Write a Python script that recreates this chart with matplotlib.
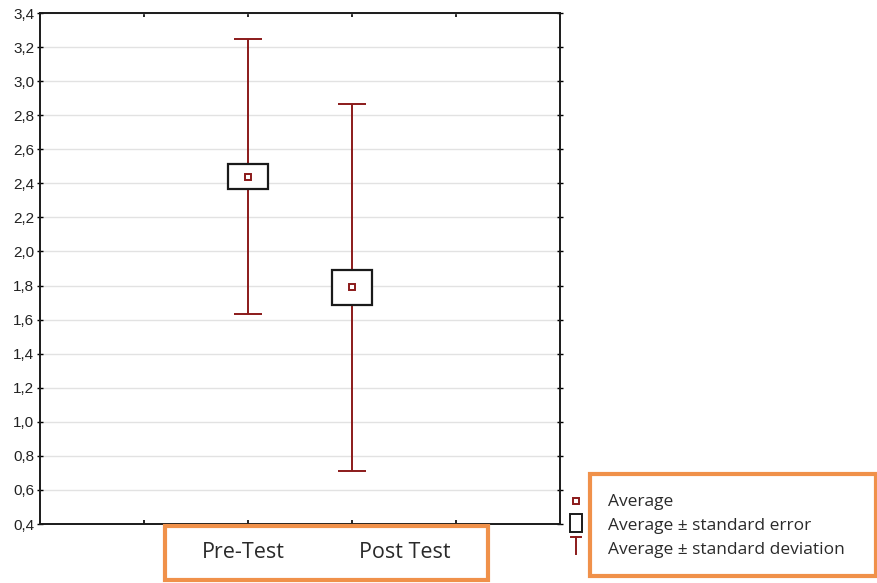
import matplotlib
matplotlib.use("Agg")
import matplotlib.pyplot as plt
from matplotlib.patches import Rectangle
from matplotlib.ticker import FuncFormatter

# data
groups = ["Pre-Test", "Post Test"]
positions = [2, 3]
means = [2.44, 1.79]
std_err = [0.076, 0.102]
std_dev = [0.81, 1.077]
legend_labels = ["Average", "Average \u00b1 standard error", "Average \u00b1 standard deviation"]

DARK_RED = "#8b1a1a"
ORANGE = "#f0914a"

fig = plt.figure(figsize=(8.78, 5.83), dpi=100)
W, H = 878, 583
ax = fig.add_axes([40 / W, 1 - 524 / H, 520 / W, 511 / H])

ax.set_xlim(0, 5)
ax.set_ylim(0.4, 3.4)
ax.set_yticks([0.4 + 0.2 * i for i in range(16)])
ax.set_xticks([1, 2, 3, 4])
ax.set_xticklabels([])
ax.yaxis.set_major_formatter(FuncFormatter(lambda v, p: f"{v:.1f}".replace(".", ",")))
ax.tick_params(axis="y", direction="inout", length=4, width=1, labelsize=11,
               labelcolor="#222222", right=True, pad=2)
ax.tick_params(axis="x", direction="in", length=3, width=1.2, top=True)
for lab in ax.get_yticklabels():
    lab.set_family("Liberation Sans")
ax.grid(axis="y", color="#e2e2e2", linewidth=1)
ax.set_axisbelow(True)
for s in ax.spines.values():
    s.set_color("#1a1a1a")
    s.set_linewidth(1.4)

box_w = 0.385
for x, m, se, sd in zip(positions, means, std_err, std_dev):
    ax.errorbar(x, m, yerr=sd, fmt="none", ecolor=DARK_RED, elinewidth=1.4,
                capsize=10, capthick=1.4, zorder=2)
    ax.add_patch(Rectangle((x - box_w / 2, m - se), box_w, 2 * se, facecolor="white",
                           edgecolor="#1a1a1a", linewidth=1.6, zorder=3))
    ax.plot(x, m, marker="s", markersize=5, markerfacecolor="white",
            markeredgecolor=DARK_RED, markeredgewidth=1.4, zorder=4)

# category labels inside an orange frame
fig.patches.append(Rectangle((165 / W, 1 - 580 / H), 323 / W, 54 / H, transform=fig.transFigure,
                             facecolor="none", edgecolor=ORANGE, linewidth=3))
for name, xp in zip(groups, [243, 405]):
    fig.text(xp / W, 1 - 553 / H, name, ha="center", va="center", fontsize=15.5,
             family="Open Sans", color="#2a2a2a")

# legend
fig.patches.append(Rectangle((590 / W, 1 - 576 / H), 286 / W, 102 / H, transform=fig.transFigure,
                             facecolor="none", edgecolor=ORANGE, linewidth=3))
for i, txt in enumerate(legend_labels):
    fig.text(608 / W, 1 - (502 + 24 * i) / H, txt, ha="left", va="center", fontsize=12.5,
             family="Open Sans", color="#2a2a2a")
lax = fig.add_axes([566 / W, 1 - 560 / H, 20 / W, 70 / H])
lax.set_xlim(0, 20)
lax.set_ylim(70, 0)
lax.axis("off")
lax.plot(10, 11, marker="s", markersize=5, markerfacecolor="white",
         markeredgecolor=DARK_RED, markeredgewidth=1.4)
lax.add_patch(Rectangle((4, 24), 12, 18, facecolor="white", edgecolor="#1a1a1a", linewidth=1.4))
lax.plot([10, 10], [47, 64], color=DARK_RED, linewidth=1.4)
lax.plot([5, 15], [47, 47], color=DARK_RED, linewidth=1.4)

fig.savefig("out.png", dpi=100)
